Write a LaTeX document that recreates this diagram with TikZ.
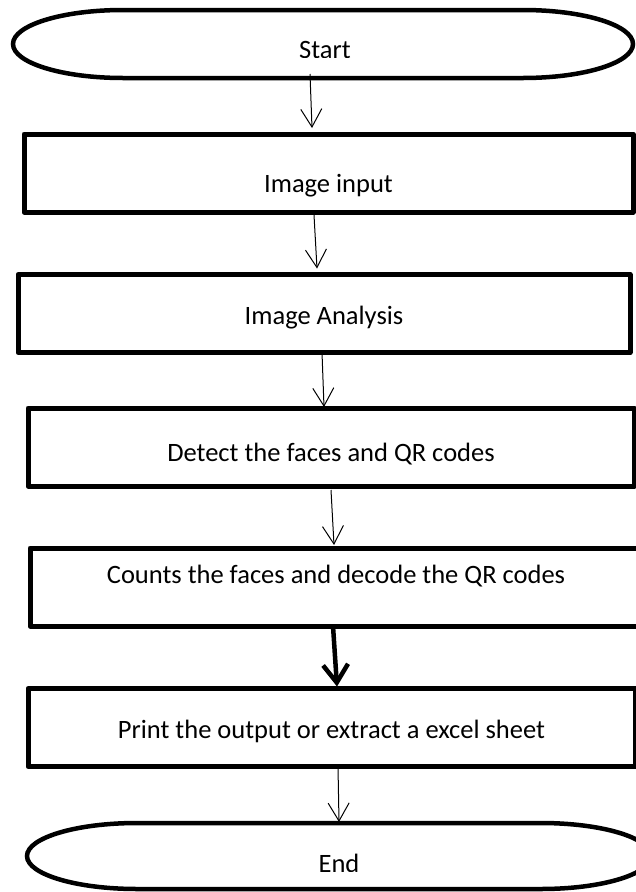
\documentclass[tikz,border=0pt]{standalone}
\usepackage{fontspec}
\setmainfont{Carlito}
\usetikzlibrary{positioning,calc,arrows.meta}

% text set on the box centre, moved down by #1
\newcommand{\boxtext}[2]{\raisebox{-#1}[0pt][0pt]{#2}}

\begin{document}
\begin{tikzpicture}[
    x=1pt,
    y=-1pt,
    font=\fontsize{26.5}{30}\selectfont,
    terminal/.style={rectangle, inner sep=0pt, outer sep=0pt},
    termline/.style={line width=4.5pt},
    stepbox/.style={rectangle, draw, line width=5pt, line join=round, inner sep=0pt, outer sep=0pt, minimum height=78pt},
    termtext/.style={anchor=base, inner sep=0pt},
    flow/.style={line width=1pt, -{Straight Barb[length=18pt, width=21pt]}},
    boldflow/.style={line width=4.5pt, -{Straight Barb[length=18pt, width=25pt]}}
]

% page: 636 x 892, y runs downwards
\useasboundingbox (0,0) rectangle (636,892);
\clip (0,0) rectangle (636,892);

% Terminals: flat top and bottom, elliptic ends
\node[terminal, minimum width=620pt, minimum height=68pt] (start) at (323,44) {};
\node[terminal, minimum width=624pt, minimum height=66pt] (end) at (339,856) {};
\foreach \t/\b in {start/34pt,end/33pt}{
    \draw[termline] ([xshift=110pt]\t.north west) -- ([xshift=-110pt]\t.north east)
        arc[start angle=90, end angle=-90, x radius=110pt, y radius=\b]
        -- ([xshift=110pt]\t.south west)
        arc[start angle=270, end angle=90, x radius=110pt, y radius=\b] -- cycle;
}

% terminal texts, cut off at the baseline
\begin{scope}
    \clip (0,0) rectangle (636,57);
    \node[termtext] (starttext) at (325,58) {Start};
\end{scope}
\begin{scope}
    \clip (0,825) rectangle (636,871);
    \node[termtext] (endtext) at (339,872) {End};
\end{scope}

% Process steps
\node[stepbox, minimum width=609pt] (input)    at (328.5,173)  {\boxtext{19.5pt}{Image input}};
\node[stepbox, minimum width=612pt] (analysis) at (324,313.5)  {\boxtext{11pt}{Image Analysis}};
\node[stepbox, minimum width=606pt] (detect)   at (331,447)    {\boxtext{14.5pt}{Detect the faces and QR codes}};
\node[stepbox, minimum width=612pt] (counts)   at (336,587)    {\boxtext{-3.5pt}{Counts the faces and decode the QR codes}};
\node[stepbox, minimum width=607pt] (print)    at (331.5,727.5){\boxtext{11pt}{Print the output or extract a excel sheet}};

% Connectors
\draw[flow] ([xshift=-13pt,yshift=4pt]start.south) -- ([xshift=-16.5pt,yshift=6pt]input.north);
\draw[flow] ([xshift=-14.5pt,yshift=-3pt]input.south) -- ([xshift=-7pt,yshift=6pt]analysis.north);
\draw[flow] ([xshift=-2pt]analysis.south) -- ([xshift=-7pt,yshift=1pt]detect.north);
\draw[flow] ([yshift=-4pt]detect.south) -- ([xshift=-2pt,yshift=3pt]counts.north);
\draw[boldflow] ([xshift=-3pt]counts.south) -- ([xshift=5.5pt,yshift=2pt]print.north);
\draw[flow] ([xshift=6.5pt]print.south) -- ([yshift=1pt]end.north);

\end{tikzpicture}
\end{document}
